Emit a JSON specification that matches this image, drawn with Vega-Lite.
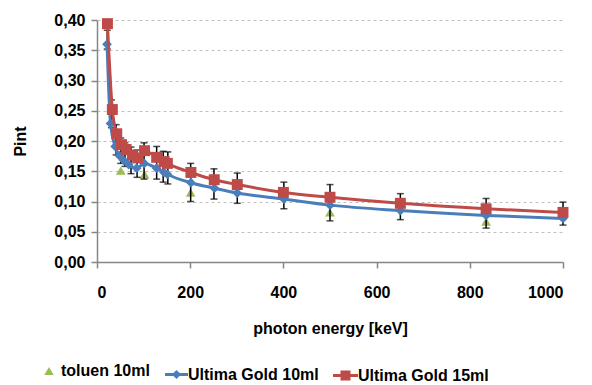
{
  "$schema": "https://vega.github.io/schema/vega-lite/v6.json",
  "width": 466,
  "height": 242,
  "autosize": {"type": "none"},
  "padding": {"left": 97, "top": 20, "right": 29, "bottom": 123},
  "background": "white",
  "config": {
    "font": "Liberation Sans",
    "view": {"stroke": null},
    "axis": {
      "labelFont": "Liberation Sans",
      "labelFontSize": 16,
      "labelFontWeight": "bold",
      "labelColor": "black",
      "titleFont": "Liberation Sans",
      "titleFontSize": 16,
      "titleFontWeight": "bold",
      "titleColor": "black",
      "domainColor": "#868686",
      "tickColor": "#868686",
      "domainWidth": 1.5,
      "tickWidth": 1.5,
      "tickSize": 6
    },
    "axisX": {"labelPadding": 16, "titlePadding": 20, "grid": false, "tickCount": 5},
    "axisY": {
      "labelPadding": 6,
      "titlePadding": 25,
      "tickCount": 8,
      "labelOverlap": false,
      "grid": true,
      "gridColor": "#c0c0c0",
      "gridDash": [3, 3],
      "gridWidth": 1
    },
    "legend": {
      "labelFont": "Liberation Sans",
      "labelFontSize": 16,
      "labelFontWeight": "bold",
      "labelColor": "black",
      "orient": "none",
      "padding": 0
    }
  },
  "datasets": {
    "toluen": [
      {"series": "toluen 10ml", "energy": 51, "pint": 0.151},
      {"series": "toluen 10ml", "energy": 102, "pint": 0.145},
      {"series": "toluen 10ml", "energy": 201, "pint": 0.115},
      {"series": "toluen 10ml", "energy": 500, "pint": 0.082},
      {"series": "toluen 10ml", "energy": 835, "pint": 0.067}
    ],
    "ug10": [
      {"series": "Ultima Gold 10ml", "energy": 21.5, "pint": 0.360},
      {"series": "Ultima Gold 10ml", "energy": 29, "pint": 0.229},
      {"series": "Ultima Gold 10ml", "energy": 39, "pint": 0.191},
      {"series": "Ultima Gold 10ml", "energy": 47.7, "pint": 0.176},
      {"series": "Ultima Gold 10ml", "energy": 57, "pint": 0.168},
      {"series": "Ultima Gold 10ml", "energy": 68, "pint": 0.161},
      {"series": "Ultima Gold 10ml", "energy": 85, "pint": 0.155},
      {"series": "Ultima Gold 10ml", "energy": 101.5, "pint": 0.163},
      {"series": "Ultima Gold 10ml", "energy": 128, "pint": 0.155},
      {"series": "Ultima Gold 10ml", "energy": 144, "pint": 0.148},
      {"series": "Ultima Gold 10ml", "energy": 151, "pint": 0.145},
      {"series": "Ultima Gold 10ml", "energy": 201.5, "pint": 0.131},
      {"series": "Ultima Gold 10ml", "energy": 252, "pint": 0.122},
      {"series": "Ultima Gold 10ml", "energy": 301, "pint": 0.114},
      {"series": "Ultima Gold 10ml", "energy": 401, "pint": 0.104},
      {"series": "Ultima Gold 10ml", "energy": 500, "pint": 0.094},
      {"series": "Ultima Gold 10ml", "energy": 651, "pint": 0.085},
      {"series": "Ultima Gold 10ml", "energy": 835, "pint": 0.077},
      {"series": "Ultima Gold 10ml", "energy": 1000, "pint": 0.072}
    ],
    "ug15": [
      {"series": "Ultima Gold 15ml", "energy": 22.4, "pint": 0.394},
      {"series": "Ultima Gold 15ml", "energy": 32.9, "pint": 0.252},
      {"series": "Ultima Gold 15ml", "energy": 42.4, "pint": 0.212},
      {"series": "Ultima Gold 15ml", "energy": 52.5, "pint": 0.194},
      {"series": "Ultima Gold 15ml", "energy": 62.4, "pint": 0.186},
      {"series": "Ultima Gold 15ml", "energy": 75.9, "pint": 0.177},
      {"series": "Ultima Gold 15ml", "energy": 87.3, "pint": 0.172},
      {"series": "Ultima Gold 15ml", "energy": 102, "pint": 0.184},
      {"series": "Ultima Gold 15ml", "energy": 128, "pint": 0.173},
      {"series": "Ultima Gold 15ml", "energy": 144, "pint": 0.166},
      {"series": "Ultima Gold 15ml", "energy": 151, "pint": 0.163},
      {"series": "Ultima Gold 15ml", "energy": 201.5, "pint": 0.148},
      {"series": "Ultima Gold 15ml", "energy": 251.6, "pint": 0.136},
      {"series": "Ultima Gold 15ml", "energy": 301, "pint": 0.128},
      {"series": "Ultima Gold 15ml", "energy": 400, "pint": 0.115},
      {"series": "Ultima Gold 15ml", "energy": 500, "pint": 0.107},
      {"series": "Ultima Gold 15ml", "energy": 651, "pint": 0.097},
      {"series": "Ultima Gold 15ml", "energy": 835, "pint": 0.088},
      {"series": "Ultima Gold 15ml", "energy": 1000, "pint": 0.082}
    ],
    "errors": [
      {"energy": 22, "lo": 0.352, "hi": 0.383},
      {"energy": 31, "lo": 0.222, "hi": 0.268},
      {"energy": 41, "lo": 0.177, "hi": 0.227},
      {"energy": 51, "lo": 0.163, "hi": 0.205},
      {"energy": 60, "lo": 0.158, "hi": 0.197},
      {"energy": 73, "lo": 0.146, "hi": 0.19},
      {"energy": 86, "lo": 0.14, "hi": 0.185},
      {"energy": 101, "lo": 0.137, "hi": 0.197},
      {"energy": 128, "lo": 0.137, "hi": 0.191},
      {"energy": 142, "lo": 0.132, "hi": 0.183},
      {"energy": 152, "lo": 0.129, "hi": 0.182},
      {"energy": 201, "lo": 0.1, "hi": 0.163},
      {"energy": 251, "lo": 0.104, "hi": 0.154},
      {"energy": 301, "lo": 0.097, "hi": 0.147},
      {"energy": 401, "lo": 0.088, "hi": 0.132},
      {"energy": 500, "lo": 0.068, "hi": 0.128},
      {"energy": 651, "lo": 0.07, "hi": 0.113},
      {"energy": 835, "lo": 0.056, "hi": 0.105},
      {"energy": 1000, "lo": 0.061, "hi": 0.099}
    ]
  },
  "layer": [
    {
      "data": {"name": "toluen"},
      "mark": {"type": "point", "shape": "triangle-up", "filled": true, "size": 95, "opacity": 1},
      "encoding": {
        "x": {
          "field": "energy", "type": "quantitative", "title": "photon energy [keV]",
          "scale": {"domain": [0, 1000], "nice": false},
          "axis": {"format": "d", "tickCount": 5}
        },
        "y": {
          "field": "pint", "type": "quantitative", "title": "Pint",
          "scale": {"domain": [0, 0.4], "nice": false},
          "axis": {
            "tickCount": 8,
            "labelExpr": "replace(format(datum.value, '.2f'), '.', ',')"
          }
        },
        "color": {
          "field": "series", "type": "nominal",
          "scale": {"domain": ["toluen 10ml"], "range": ["#9BBB59"]},
          "legend": {"title": null, "legendX": -56, "legendY": 343, "symbolType": "triangle-up", "symbolSize": 90, "labelOffset": 4}
        }
      }
    },
    {
      "data": {"name": "errors"},
      "mark": {"type": "errorbar", "color": "black", "thickness": 1.5, "ticks": {"size": 7, "thickness": 1.5}},
      "encoding": {
        "x": {"field": "energy", "type": "quantitative", "title": "photon energy [keV]"},
        "y": {"field": "lo", "type": "quantitative", "title": "Pint"},
        "y2": {"field": "hi"}
      }
    },
    {
      "data": {"name": "ug10"},
      "mark": {"type": "line", "color": "#4A7EBB", "strokeWidth": 3, "interpolate": "monotone"},
      "encoding": {
        "x": {"field": "energy", "type": "quantitative", "title": "photon energy [keV]"},
        "y": {"field": "pint", "type": "quantitative", "title": "Pint"}
      }
    },
    {
      "data": {"name": "ug10"},
      "mark": {"type": "point", "shape": "diamond", "filled": true, "size": 95, "opacity": 1},
      "encoding": {
        "x": {"field": "energy", "type": "quantitative", "title": "photon energy [keV]"},
        "y": {"field": "pint", "type": "quantitative", "title": "Pint"},
        "color": {
          "field": "series", "type": "nominal",
          "scale": {"domain": ["Ultima Gold 10ml"], "range": ["#4A7EBB"]},
          "legend": {"title": null, "legendX": 68, "legendY": 343, "symbolType": "M-1,-0.13L1,-0.13L1,0.13L-1,0.13Z M-0.4,0L0,-0.4L0.4,0L0,0.4Z", "symbolSize": 529, "symbolStrokeWidth": 0, "labelOffset": 0}
        }
      }
    },
    {
      "data": {"name": "ug15"},
      "mark": {"type": "line", "color": "#BE4B48", "strokeWidth": 3, "interpolate": "monotone"},
      "encoding": {
        "x": {"field": "energy", "type": "quantitative", "title": "photon energy [keV]"},
        "y": {"field": "pint", "type": "quantitative", "title": "Pint"}
      }
    },
    {
      "data": {"name": "ug15"},
      "mark": {"type": "point", "shape": "square", "filled": true, "size": 120, "opacity": 1},
      "encoding": {
        "x": {"field": "energy", "type": "quantitative", "title": "photon energy [keV]"},
        "y": {"field": "pint", "type": "quantitative", "title": "Pint"},
        "color": {
          "field": "series", "type": "nominal",
          "scale": {"domain": ["Ultima Gold 15ml"], "range": ["#BE4B48"]},
          "legend": {"title": null, "legendX": 236, "legendY": 343, "symbolType": "M-1,-0.12L1,-0.12L1,0.12L-1,0.12Z M-0.4,-0.4L0.4,-0.4L0.4,0.4L-0.4,0.4Z", "symbolSize": 625, "symbolStrokeWidth": 0, "labelOffset": 0}
        }
      }
    }
  ],
  "resolve": {"scale": {"color": "independent"}, "legend": {"color": "independent"}}
}
